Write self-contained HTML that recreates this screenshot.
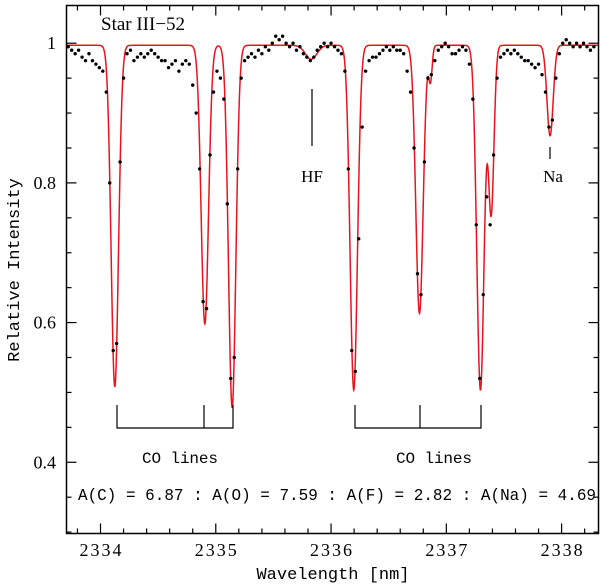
<!DOCTYPE html>
<html><head><meta charset="utf-8"><style>
html,body{margin:0;padding:0;background:#fff}
svg{display:block}
.serif{font-family:"Liberation Serif",serif}
.mono{font-family:"Liberation Mono",monospace}
</style></head><body>
<svg id="chart" width="600" height="585" viewBox="0 0 600 585" xmlns="http://www.w3.org/2000/svg">
<g id="ticks"></g>
<g id="model"></g>
<g id="obs"></g>
<rect x="66.5" y="5.5" width="532" height="528" fill="none" stroke="#000" stroke-width="1.5"/>
<text class="serif" x="101" y="30" font-size="19">Star III−52</text>
<line x1="312" y1="89" x2="312" y2="146" stroke="#000" stroke-width="1.2"/>
<text class="serif" x="312" y="182" font-size="17" text-anchor="middle">HF</text>
<line x1="550" y1="147" x2="550" y2="159" stroke="#000" stroke-width="1.2"/>
<text class="serif" x="553" y="182" font-size="17" text-anchor="middle">Na</text>
<path d="M117,405V428H233V405M204,405V428" fill="none" stroke="#000" stroke-width="1.2"/>
<path d="M355,405V428H481V405M420,405V428" fill="none" stroke="#000" stroke-width="1.2"/>
<text class="mono" x="142" y="463" font-size="16" textLength="76">CO lines</text>
<text class="mono" x="396" y="463" font-size="16" textLength="76">CO lines</text>
<text class="mono" x="78" y="500" font-size="17" textLength="518" lengthAdjust="spacingAndGlyphs">A(C) = 6.87 : A(O) = 7.59 : A(F) = 2.82 : A(Na) = 4.69</text>
<text class="mono" x="333" y="579" font-size="17" text-anchor="middle">Wavelength [nm]</text>
<text class="mono" transform="translate(19,270) rotate(-90)" font-size="17" text-anchor="middle">Relative Intensity</text>
</svg>
<script>
const xTicks = [2334, 2335, 2336, 2337, 2338];
const yTicks = [0.4, 0.6, 0.8, 1];
const yTickLabels = ["0.4", "0.6", "0.8", "1"];
const lineCenters = [2334.124, 2334.905, 2335.142, 2335.827, 2336.197, 2336.767, 2336.862, 2337.296, 2337.389, 2337.900];
const lineDepths = [0.49, 0.40, 0.52, 0.02, 0.495, 0.385, 0.05, 0.495, 0.24, 0.13];
const lineWidths = [0.032, 0.032, 0.032, 0.05, 0.032, 0.032, 0.015, 0.032, 0.024, 0.027];
const continuum = 0.997;
const obsStart = 2333.72;
const obsStep = 0.03;
const obsValues = [0.995,0.99,0.985,0.99,0.98,0.975,0.985,0.975,0.97,0.965,
0.96,0.93,0.80,0.56,0.57,0.83,0.95,0.985,0.99,0.975,
0.98,0.985,0.98,0.985,0.99,0.985,0.98,0.975,0.975,0.965,
0.97,0.975,0.96,0.97,0.975,0.97,0.94,0.90,0.82,0.63,
0.62,0.84,0.93,0.96,0.95,0.92,0.77,0.52,0.55,0.82,
0.95,0.975,0.98,0.985,0.98,0.99,0.985,0.995,0.99,1.0,
1.01,1.005,1.01,1.0,0.995,1.0,0.99,0.995,0.985,0.98,
0.975,0.98,0.99,0.995,1.0,0.995,1.0,0.995,0.99,0.985,
0.96,0.82,0.56,0.53,0.72,0.88,0.96,0.975,0.98,0.98,
0.985,0.99,0.995,0.99,0.995,0.99,0.99,0.985,0.96,0.93,
0.85,0.67,0.64,0.83,0.95,0.955,0.975,0.99,0.995,1.0,
0.995,0.985,0.985,0.99,0.995,0.99,0.97,0.92,0.74,0.52,
0.64,0.78,0.74,0.84,0.95,0.98,0.985,0.99,0.985,0.99,
0.985,0.98,0.975,0.975,0.97,0.965,0.97,0.955,0.93,0.88,
0.89,0.95,0.985,1.0,1.005,1.0,0.995,1.0,0.995,1.0,
0.995,0.99,0.995];

const NS = "http://www.w3.org/2000/svg";
const xMin = 2333.705, xMax = 2338.32, px0 = 66.5, px1 = 598.5;
const yLo = 0.298, yHi = 1.054, py0 = 533.5, py1 = 5.5;
function sx(l){ return px0 + (l - xMin) / (xMax - xMin) * (px1 - px0); }
function sy(v){ return py0 - (v - yLo) / (yHi - yLo) * (py0 - py1); }
function model(l){
  let v = continuum;
  for (let k = 0; k < lineCenters.length; k++){
    const z = (l - lineCenters[k]) / lineWidths[k];
    v *= 1 - lineDepths[k] * Math.exp(-0.5 * z * z);
  }
  return v;
}
const ticksG = document.getElementById("ticks");
function ln(x1,y1,x2,y2,name){
  const e = document.createElementNS(NS,"line");
  e.setAttribute("x1",x1);e.setAttribute("y1",y1);e.setAttribute("x2",x2);e.setAttribute("y2",y2);
  e.setAttribute("stroke","#000");e.setAttribute("stroke-width","1.2");
  
  
  ticksG.appendChild(e);
}
for (let t = 2333.8; t <= 2338.3; t += 0.2){
  const r = Math.round(t*10)/10, x = sx(r);
  const major = Math.abs(r - Math.round(r)) < 1e-6;
  const L = major ? 10 : 5;
  ln(x,py0,x,py0-L,"x-tick");
  ln(x,py1,x,py1+L,"x-tick-top");
}
for (let t = 0.30; t <= 1.05; t += 0.05){
  const r = Math.round(t*100)/100, y = sy(r);
  const major = Math.abs(r*5 - Math.round(r*5)) < 1e-6;
  const L = major ? 10 : 5;
  ln(px0,y,px0+L,y,"y-tick");
  ln(px1,y,px1-L,y,"y-tick-right");
}
xTicks.forEach(function(t){
  const e = document.createElementNS(NS,"text");
  e.setAttribute("x",sx(t));e.setAttribute("y",556);
  e.setAttribute("text-anchor","middle");e.setAttribute("font-size","18");
  e.setAttribute("class","serif");e.setAttribute("textLength","42");
  
  
  e.textContent = String(t);
  ticksG.appendChild(e);
});
yTicks.forEach(function(t,i){
  const e = document.createElementNS(NS,"text");
  e.setAttribute("x",56);e.setAttribute("y",sy(t)+6);
  e.setAttribute("text-anchor","end");e.setAttribute("font-size","18");
  e.setAttribute("class","serif");
  
  
  e.textContent = yTickLabels[i];
  ticksG.appendChild(e);
});
let d = "";
for (let l = xMin; l <= xMax; l += 0.002){
  d += (d ? "L" : "M") + sx(l).toFixed(2) + "," + sy(model(l)).toFixed(2);
}
const mp = document.createElementNS(NS,"path");
mp.setAttribute("d",d);mp.setAttribute("fill","none");
mp.setAttribute("stroke","#e8141c");mp.setAttribute("stroke-width","1.5");


document.getElementById("model").appendChild(mp);
const og = document.getElementById("obs");
obsValues.forEach(function(v,i){
  const c = document.createElementNS(NS,"circle");
  c.setAttribute("cx",sx(obsStart + i*obsStep));
  c.setAttribute("cy",sy(v));
  c.setAttribute("r","1.7");c.setAttribute("fill","#000");
  
  
  og.appendChild(c);
});
</script>
</body></html>
